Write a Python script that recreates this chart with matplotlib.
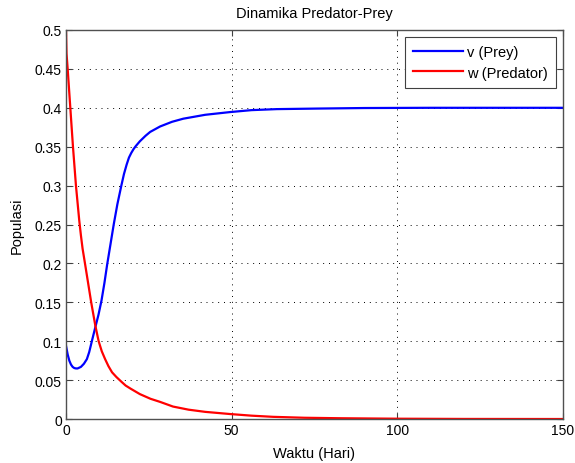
import numpy as np
import matplotlib.pyplot as plt

# Data
t_prey = [0, 0.5, 1, 1.5, 2, 2.5, 3, 3.5, 4.5, 5.4, 6.3, 7.0, 7.8, 8.85, 9.8, 10.7,
          11.6, 12.4, 13.4, 14.4, 15.5, 16.7, 17.5, 18.3, 19.0, 19.7, 20.4, 21.1,
          22.3, 24, 25.4, 28.4, 32, 35.4, 42, 49.5, 56, 63.6, 75.7, 90, 110, 150]
v_prey = [0.094, 0.083, 0.075, 0.070, 0.067, 0.0655, 0.065, 0.065, 0.067, 0.071,
          0.077, 0.086, 0.1, 0.118, 0.134, 0.152, 0.175, 0.198, 0.224, 0.25, 0.276,
          0.3, 0.315, 0.327, 0.336, 0.342, 0.347, 0.351, 0.357, 0.364, 0.369, 0.376,
          0.382, 0.386, 0.391, 0.3945, 0.397, 0.3983, 0.399, 0.3997, 0.4, 0.4]

t_pred = [0, 0.15, 0.5, 1.3, 2.1, 3.0, 4.0, 4.5, 5.0, 5.8, 6.7, 7.6, 8.85, 9.85,
          10.8, 11.8, 12.8, 13.9, 15.2, 16.7, 18, 19.5, 22.3, 25.5, 28.4, 32.3, 37,
          42, 49.5, 56, 62.5, 72, 82.7, 100, 120, 150]
w_pred = [0.5, 0.47, 0.45, 0.4, 0.35, 0.3, 0.255, 0.236, 0.219, 0.198, 0.174, 0.15,
          0.12, 0.1, 0.087, 0.077, 0.068, 0.06, 0.054, 0.048, 0.043, 0.039, 0.032,
          0.026, 0.022, 0.016, 0.012, 0.0092, 0.0064, 0.0043, 0.0028, 0.0016, 0.001,
          0.0004, 0.0001, 0.0]

xticks = [0, 50, 100, 150]
yticks = [0, 0.05, 0.1, 0.15, 0.2, 0.25, 0.3, 0.35, 0.4, 0.45, 0.5]
ytick_labels = ['0', '0.05', '0.1', '0.15', '0.2', '0.25', '0.3', '0.35', '0.4', '0.45', '0.5']

plt.rcParams['font.family'] = ['Liberation Sans', 'DejaVu Sans']

fig = plt.figure(figsize=(5.75, 4.64), dpi=100)
ax = fig.add_axes([0.1148, 0.0948, 0.8643, 0.8384])

ax.plot(t_prey, v_prey, color='#0000ff', lw=1.6, label='v (Prey)')
ax.plot(t_pred, w_pred, color='#ff0000', lw=1.6, label='w (Predator)')

ax.set_xlim(0, 150)
ax.set_ylim(0, 0.5)
ax.set_xticks(xticks)
ax.set_yticks(yticks)
ax.set_yticklabels(ytick_labels)

ax.grid(True, color='black', linestyle=(0, (1, 5)), linewidth=0.7)
ax.tick_params(direction='in', top=True, right=True, labelsize=10, length=4,
               color='#404040', pad=3)
for s in ax.spines.values():
    s.set_color('#505050')
    s.set_linewidth(1.0)

ax.set_title('Dinamika Predator-Prey', fontsize=10.5, pad=9)
ax.set_xlabel('Waktu (Hari)', fontsize=10.5, labelpad=6)
ax.set_ylabel('Populasi', fontsize=10.5, labelpad=8)

leg = ax.legend(loc='upper right', bbox_to_anchor=(0.986, 0.982), borderaxespad=0,
                fancybox=False, framealpha=1, edgecolor='#404040', fontsize=10.5,
                handlelength=3.4, handletextpad=0.3, borderpad=0.55, labelspacing=0.45)
leg.get_frame().set_linewidth(0.8)

fig.savefig('out.png', dpi=100)
